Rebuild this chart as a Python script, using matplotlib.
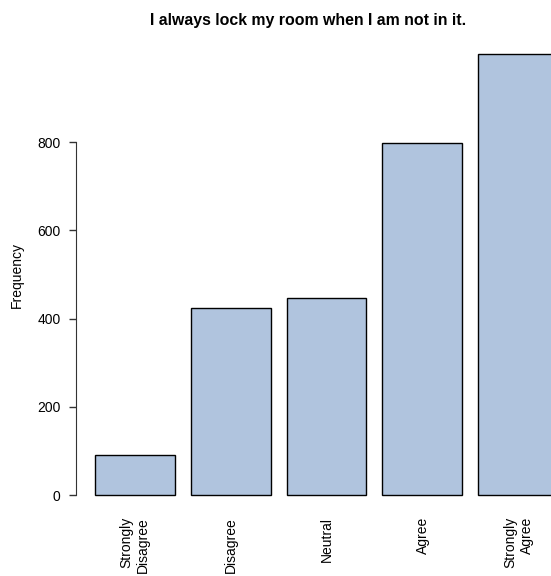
import numpy as np
import matplotlib
matplotlib.use('Agg')
import matplotlib.pyplot as plt

plt.rcParams['font.family'] = ['Liberation Sans', 'DejaVu Sans']

categories = ['Strongly\nDisagree', 'Disagree', 'Neutral', 'Agree', 'Strongly\nAgree']
counts = [92, 424, 446, 798, 1000]
yticks = [0, 200, 400, 600, 800]
title = 'I always lock my room when I am not in it.'

W, H = 551, 576
fig = plt.figure(figsize=(W / 100, H / 100), dpi=100)
# plot region in pixels (R-style barplot, runs past right edge)
left, right, top, bottom = 76, 577, 36, 513
ax = fig.add_axes([left / W, 1 - bottom / H, (right - left) / W, (bottom - top) / H])

# R barplot layout: width 1, space 0.2
x = 0.2 + np.arange(len(counts)) * 1.2 + 0.5
ax.bar(x, counts, width=1.0, color='#B0C4DE', edgecolor='black', linewidth=1.0)

ax.set_xlim(-0.032, 6.232)
ax.set_ylim(-40, 1040)

for s in ['top', 'right', 'bottom']:
    ax.spines[s].set_visible(False)
ax.spines['left'].set_bounds(0, 800)
ax.spines['left'].set_color('#333333')
ax.set_yticks(yticks)
ax.set_yticklabels([str(v) for v in yticks])
ax.tick_params(axis='y', length=5, width=1, labelsize=10, pad=6, color='#333333')
ax.set_xticks([])

for xi, lab in zip(x, categories):
    ax.text(xi, -0.008, lab, transform=ax.get_xaxis_transform(), rotation=90,
            ha='center', va='top', multialignment='right', fontsize=10)

fig.text(17 / W, 1 - (top + bottom) / 2 / H, 'Frequency', rotation=90,
         ha='center', va='center', fontsize=10)
fig.text(308 / W, 1 - 20 / H, title, ha='center', va='center',
         fontsize=11.4, fontweight='bold')

fig.savefig('out.png', dpi=100)
